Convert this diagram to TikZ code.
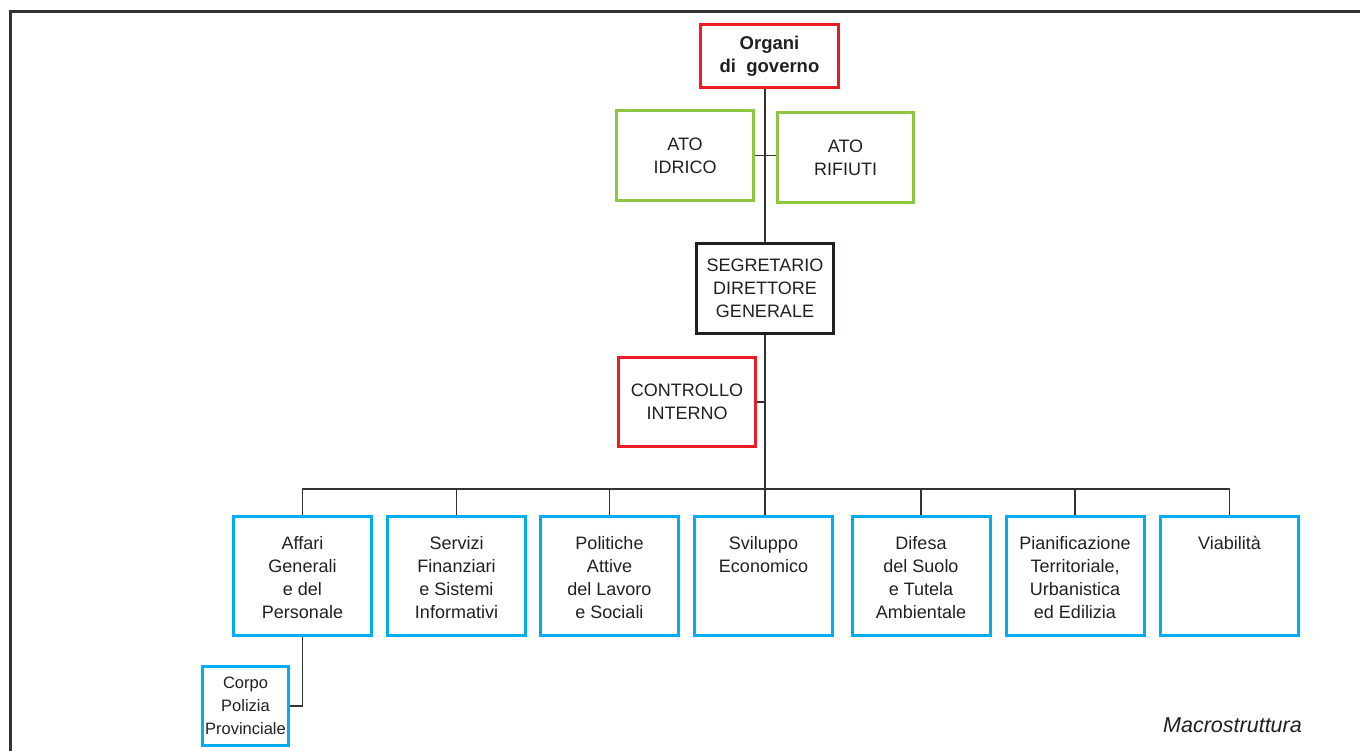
\documentclass[tikz,border=0pt]{standalone}
\usepackage{fontspec}
\setmainfont{Liberation Sans}
\definecolor{cred}{HTML}{ED1C24}
\definecolor{cgreen}{HTML}{8DC63F}
\definecolor{cblue}{HTML}{00AEEF}
\definecolor{cink}{HTML}{231F20}
\definecolor{cline}{HTML}{333333}
\newcommand{\toplines}[1]{\parbox[t]{134pt}{\centering #1}}
\begin{document}
\begin{tikzpicture}[x=1pt,y=-1pt,
  every node/.style={text=cink,font=\fontsize{18}{23.3}\selectfont,align=center,inner sep=0pt},
  box/.style={draw,line width=3pt,rectangle},
  redbox/.style={box,draw=cred},
  greenbox/.style={box,draw=cgreen},
  blackbox/.style={box,draw=cink},
  bluebox/.style={box,draw=cblue,minimum width=138pt,text height=33pt,text depth=86pt,anchor=north},
  conn/.style={draw=cline,line width=1.5pt},
  frame/.style={draw=cline,line width=3pt}]
\useasboundingbox (0,0) rectangle (1360,751);
\draw[frame] (10,752) -- (10,12) -- (1361,12);
% top part
\node[redbox,minimum width=138pt,minimum height=63pt,font=\fontsize{18.5}{23.3}\selectfont\bfseries] (org) at (769.5,56) {Organi\\di\ \ governo};
\node[greenbox,minimum width=137pt,minimum height=90pt] (idr) at (685,155.5) {ATO\\IDRICO};
\node[greenbox,minimum width=136pt,minimum height=90pt] (rif) at (845.5,157.5) {ATO\\RIFIUTI};
\node[blackbox,minimum width=137pt,minimum height=90pt] (seg) at (765,288.5) {SEGRETARIO\\DIRETTORE\\GENERALE};
\node[redbox,minimum width=137pt,minimum height=89pt] (ctl) at (687,402) {CONTROLLO\\INTERNO};
% bottom row
\node[bluebox] (aff) at (302.5,514.5) {\toplines{Affari\\Generali\\e del\\Personale}};
\node[bluebox] (ser) at (456.5,514.5) {\toplines{Servizi\\Finanziari\\e Sistemi\\Informativi}};
\node[bluebox] (pol) at (609.5,514.5) {\toplines{Politiche\\Attive\\del Lavoro\\e Sociali}};
\node[bluebox] (svi) at (763.5,514.5) {\toplines{Sviluppo\\Economico}};
\node[bluebox] (dif) at (921,514.5) {\toplines{Difesa\\del Suolo\\e Tutela\\Ambientale}};
\node[bluebox] (pia) at (1075,514.5) {\toplines{Pianificazione\\Territoriale,\\Urbanistica\\ed Edilizia}};
\node[bluebox] (via) at (1229.5,514.5) {\toplines{Viabilità}};
\node[box,draw=cblue,minimum width=86pt,minimum height=79pt,font=\fontsize{16.5}{23.3}\selectfont] (cor) at (245.5,706) {Corpo\\Polizia\\Provinciale};
\node[font=\fontsize{21.5}{24}\selectfont\itshape,anchor=base] (mac) at (1232.5,732) {Macrostruttura};
% connectors
\coordinate (bus) at (765,489);
\draw[conn] (org.south -| seg.north) -- (seg.north);
\draw[conn] (idr.east) -- (idr.east -| rif.west);
\draw[conn] (ctl.east) -- (ctl.east -| seg.south);
\draw[conn] (seg.south) -- (seg.south |- svi.north);
\draw[conn] (aff.north) |- (bus) -| (via.north);
\draw[conn] (ser.north) -- (ser.north |- bus);
\draw[conn] (pol.north) -- (pol.north |- bus);
\draw[conn] (dif.north) -- (dif.north |- bus);
\draw[conn] (pia.north) -- (pia.north |- bus);
\draw[conn] (aff.south) |- (cor.east);
\end{tikzpicture}
\end{document}
